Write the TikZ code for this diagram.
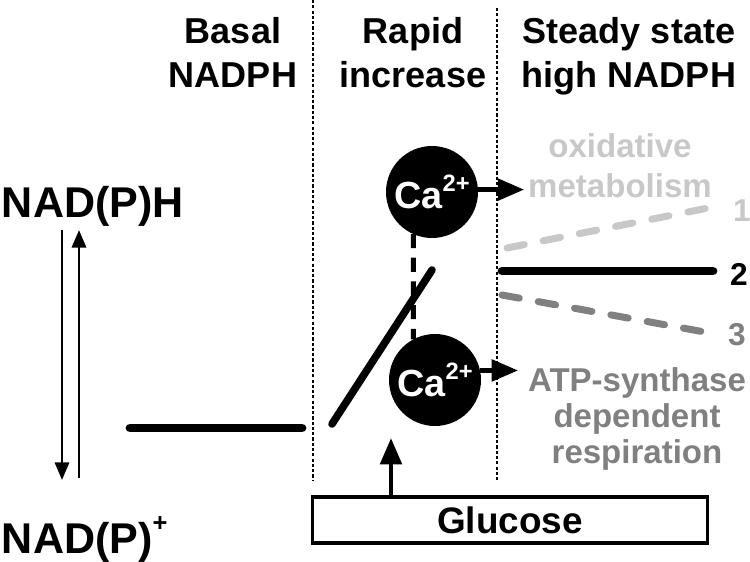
\documentclass[tikz,border=0pt]{standalone}
\usepackage{fontspec}
\setmainfont{Liberation Sans}
\usetikzlibrary{arrows.meta,positioning,calc}
\definecolor{lightgr}{HTML}{C8C8C8}
\definecolor{midgr}{HTML}{808080}

\begin{document}
\begin{tikzpicture}[
  x=0.02cm, y=-0.02cm,
  every node/.style={inner sep=0pt, outer sep=0pt},
  head/.style={anchor=north, align=center, font=\bfseries\fontsize{20.5}{25}\selectfont},
  nad/.style={anchor=base west, font=\bfseries\fontsize{24.5}{29}\selectfont},
  side/.style={anchor=north, align=center, font=\bfseries\fontsize{18.8}{22.7}\selectfont},
  num/.style={anchor=base west, font=\bfseries\fontsize{18}{21}\selectfont},
  ion/.style={circle, fill=black, minimum size=1.84cm, text=white,
              font=\bfseries\fontsize{21.5}{24}\selectfont},
  sep/.style={line width=0.6pt, dash pattern=on 1.8pt off 1.2pt},
  level/.style={line width=5pt, line cap=round},
  trend/.style={line width=4pt, line cap=round, dash pattern=on 10pt off 11pt},
  link/.style={line width=2.8pt, dash pattern=on 8pt off 5.5pt},
  nadarrow/.style={-{Triangle[length=10pt,width=8pt]}, line width=1.7pt},
  ionarrow/.style={-{Triangle[length=15pt,width=12pt]}, line width=2.8pt},
  glubox/.style={draw, line width=1.9pt, minimum width=7.9cm, minimum height=0.92cm,
                 font=\bfseries\fontsize{21}{24}\selectfont}
]
\useasboundingbox (0,0) rectangle (750,561);

% column heads
\node[head] (basal)  at (233,17) {Basal\\NADPH};
\node[head] (rapid)  at (413,17) {Rapid\\increase};
\node[head] (steady) at (629,17) {Steady state\\high NADPH};
\draw[sep] (313,0) -- (313,480);
\draw[sep] (497,8) -- (497,480);

% redox pair
\node[nad] (nadh) at (2,217) {NAD(P)H};
\node[nad] (nadp) at (2,553) {NAD(P)\raisebox{0.5em}{\fontsize{14.5}{15}\selectfont +}};
\coordinate (dn0) at (62,230);
\coordinate (dn1) at (62,480);
\coordinate (up0) at (79,478);
\coordinate (up1) at (79,230);
\draw[nadarrow] (dn0) -- (dn1);
\draw[nadarrow] (up0) -- (up1);

% basal level and the rise
\coordinate (b0) at (130,428);
\coordinate (b1) at (302,428);
\draw[level] (b0) -- (b1);
\coordinate (r0) at (332,424);
\coordinate (r1) at (432,270);

% calcium
\node[ion] (ca1) at (432,192) {Ca\raisebox{0.47em}{\fontsize{13.5}{14}\selectfont 2+}};
\node[ion] (ca2) at (435,380) {Ca\raisebox{0.47em}{\fontsize{13.5}{14}\selectfont 2+}};
\draw[link] (ca1.246) -- (ca2.118);
\draw[line width=4.3pt, line cap=round] (r0) -- (r1);

% steady state outcomes
\coordinate (s1a) at (507,248);
\coordinate (s1b) at (708,208);
\coordinate (s2a) at (502,271);
\coordinate (s2b) at (713,271);
\coordinate (s3a) at (502,295);
\coordinate (s3b) at (710,333);
\draw[trend, lightgr] (s1a) -- (s1b);
\draw[level] (s2a) -- (s2b);
\draw[trend, midgr] (s3a) -- (s3b);
\node[num, text=lightgr] (n1) at (733,221) {1};
\node[num] (n2) at (730,285) {2};
\node[num, text=midgr] (n3) at (728,345) {3};

\node[side, text=lightgr] (oxid) at (620,134) {oxidative\\metabolism};
\node[side, text=midgr, font=\bfseries\fontsize{18.8}{20.4}\selectfont] (atp) at (637,368)
  {ATP-synthase\\dependent\\respiration};
\draw[ionarrow, shorten >=0.08cm] (ca1.3) -- (ca1.3 -| oxid.west);
\draw[ionarrow, shorten >=0.2cm] (ca2.12) -- (ca2.12 -| atp.west);

% glucose
\node[glubox] (glu) at (510,520) {Glucose};
\coordinate (gtip) at (391,438);
\draw[ionarrow] (glu.north -| gtip) -- (gtip);
\end{tikzpicture}
\end{document}
